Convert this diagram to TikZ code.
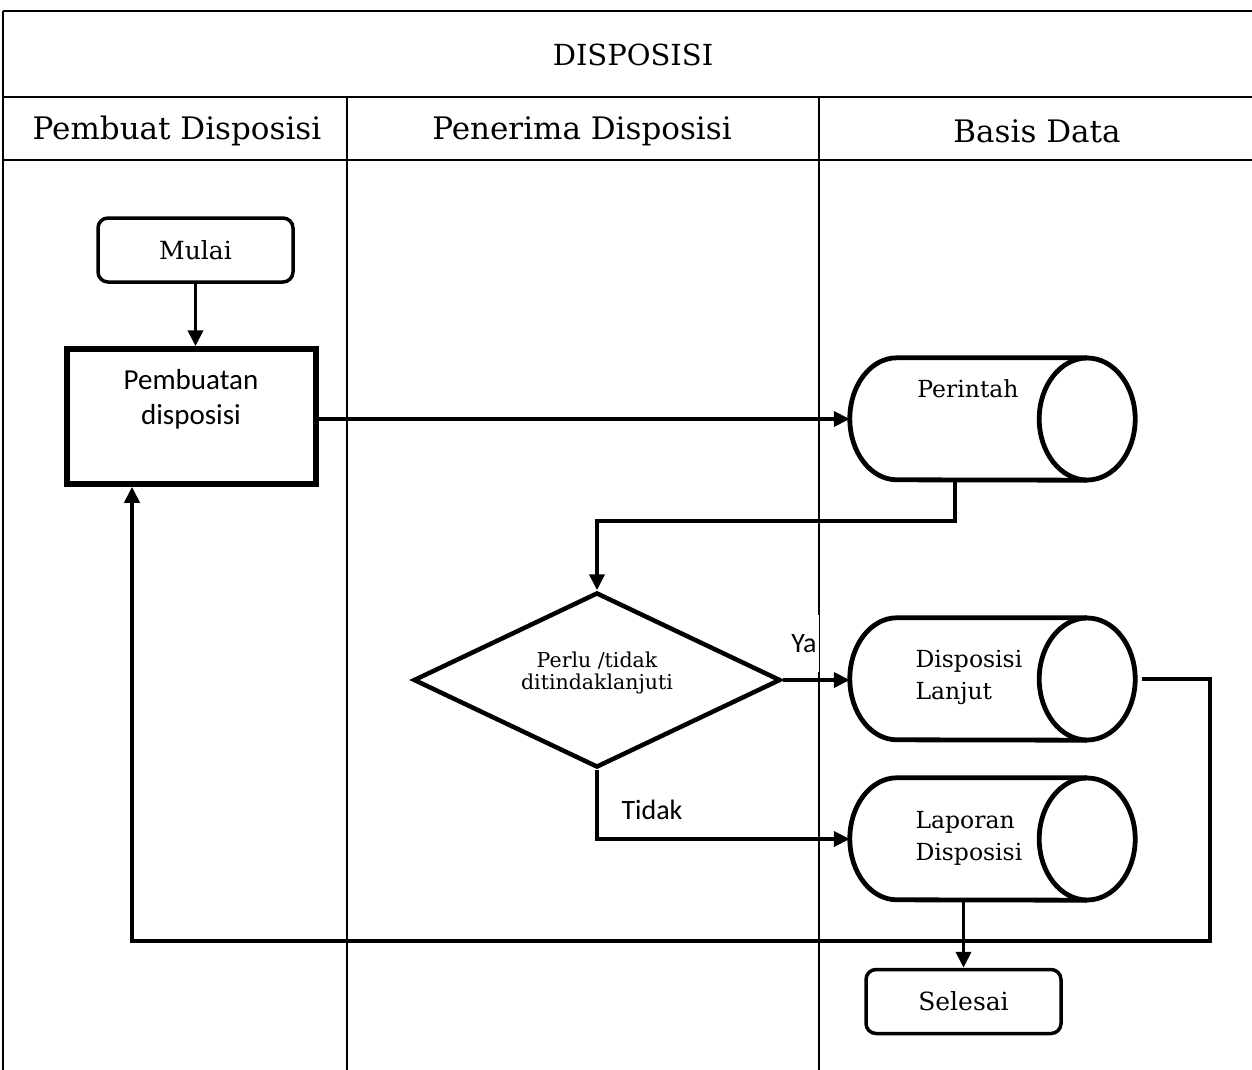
\documentclass[tikz,border=0pt]{standalone}
\usepackage{fontspec}
\setmainfont{DejaVu Serif}
\newfontfamily\calibrifont{Carlito}
\usetikzlibrary{arrows.meta,shapes.geometric,calc}

\tikzset{
  rule line/.style={line width=2.8pt},
  lane line/.style={line width=2pt},
  terminal/.style={draw, line width=3.5pt, rounded corners=10pt, minimum width=195pt,
    minimum height=64pt, inner sep=0pt, font=\fontsize{25}{28}\selectfont},
  processbox/.style={draw, line width=5.5pt, minimum width=249pt, minimum height=135pt, inner sep=0pt},
  boxtext/.style={align=center, font=\calibrifont\fontsize{29}{35}\selectfont},
  decision/.style={draw, diamond, line width=4.5pt, minimum width=367pt, minimum height=175pt,
    inner sep=0pt},
  dectext/.style={align=center, font=\fontsize{20.5}{22}\selectfont},
  dbframe/.style={minimum width=285pt, minimum height=122pt, inner sep=0pt},
  dbline/.style={line width=4.8pt},
  dblabel/.style={align=left, font=\fontsize{23.5}{32}\selectfont},
  flow/.style={line width=3.8pt, -{Triangle[length=16pt,width=15pt]}},
  header/.style={font=\fontsize{31}{34}\selectfont},
  titletext/.style={font=\fontsize{29}{34}\selectfont},
  branch/.style={font=\calibrifont\fontsize{28}{32}\selectfont},
}

% horizontal data-store cylinder drawn around a named frame node
\newcommand\dbdraw[1]{%
  \draw[dbline] ($(#1.north east)+(-48,0)$) -- ($(#1.north west)+(47,0)$)
    arc[start angle=90, end angle=270, x radius=47, y radius=61]
    -- ($(#1.south east)+(-48,0)$);
  \draw[dbline] ($(#1.east)+(-48,0)$) ellipse[x radius=48, y radius=61];
}

\begin{document}
\begin{tikzpicture}[x=1pt, y=1pt]
\useasboundingbox (0,0) rectangle (1252,-1070);

% swimlane table
\draw[rule line] (3,-11) -- (1252,-11);
\draw[rule line] (3,-97) -- (1252,-97);
\draw[rule line] (3,-160) -- (1252,-160);
\draw[lane line] (3,-11) -- (3,-1070);
\draw[lane line] (347,-97) -- (347,-1070);
\draw[lane line] (819,-97) -- (819,-1070);

\node[titletext] (title) at (633,-55) {DISPOSISI};
\node[header] (lane1) at (177,-131) {Pembuat Disposisi};
\node[header] (lane2) at (582,-131) {Penerima Disposisi};
\node[header] (lane3) at (1037,-131) {Basis Data};

% flow elements
\node[terminal, fill=white] (mulai) at (195.5,-250) {Mulai};
\node[processbox, fill=white] (pemb) at (191.5,-416.5) {};
\node[boxtext] (pembtext) at (191,-399) {Pembuatan\\disposisi};

\node[dbframe] (perintah) at (992.5,-419) {};
\dbdraw{perintah}
\node[dblabel] (perintahtext) at (968,-389) {Perintah};

\node[decision, fill=white] (dec) at (597,-680) {};
\node[dectext] (dectext) at (597,-673) {Perlu /tidak\\ditindaklanjuti};

\node[dbframe] (lanjut) at (992.5,-679) {};
\dbdraw{lanjut}
\node[dblabel, anchor=west] (lanjuttext) at (912,-677) {Disposisi\\Lanjut};

\node[dbframe] (laporan) at (992.5,-839) {};
\dbdraw{laporan}
\node[dblabel, anchor=west] (laporantext) at (912,-838) {Laporan\\Disposisi};

\node[terminal] (selesai) at (963.5,-1001.5) {Selesai};

% connectors
\draw[flow] (mulai.south) -- (mulai.south |- pemb.north);
\draw[flow] (perintah.west -| pemb.east) -- (perintah.west);
\draw[flow] ($(perintah.south west)+(105,0)$) -- ++(0,-41) -| (dec.north);
\draw[flow] (dec.east) -- (dec.east -| lanjut.west);
\draw[flow] (dec.south) |- (laporan.west);
\draw[flow] (selesai.north |- laporan.south) -- (selesai.north);

\coordinate (loopR) at (1210,-941);
\coordinate (loopL) at (132,-941);
\draw[flow] ($(lanjut.east)+(7,0)$) -| (loopR) -- (loopL) -- (loopL |- pemb.south);

% branch labels
\node[branch, fill=white, minimum height=57pt, inner sep=2pt] (ya) at (804,-643.5) {Ya};
\node[branch] (tidak) at (652,-810) {Tidak};
\end{tikzpicture}
\end{document}
